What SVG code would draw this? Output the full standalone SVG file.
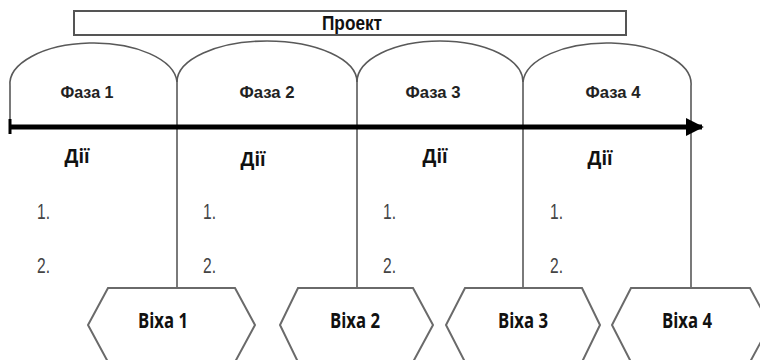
<svg xmlns="http://www.w3.org/2000/svg" width="760" height="360" viewBox="0 0 760 360">
<defs>
<style>
.ln{fill:none;stroke:#595959;stroke-width:1.6}
.hex{fill:#fff;stroke:#6a6a6a;stroke-width:2}
.ph{font-family:"Liberation Sans",Arial,sans-serif;font-weight:bold;font-size:17px;fill:#222;text-anchor:middle}
.act{font-family:"Open Sans","Liberation Sans",sans-serif;font-weight:700;font-size:20px;fill:#111;text-anchor:middle}
.num{font-family:"Liberation Sans",Arial,sans-serif;font-size:22px;fill:#444}
.ms{font-family:"Open Sans","Liberation Sans",sans-serif;font-weight:700;font-size:21px;fill:#111;text-anchor:middle}
</style>
<marker id="ah" viewBox="0 0 10 10" refX="9" refY="5" markerWidth="3.6" markerHeight="3.6" orient="auto" markerUnits="strokeWidth">
<path d="M0,0 L10,5 L0,10 z" fill="#000"/>
</marker>
</defs>
<g id="project">
<rect x="74" y="11" width="552" height="24" fill="#fff" stroke="#555" stroke-width="2"/>
<text x="352" y="30" font-family="'Liberation Sans',Arial,sans-serif" font-weight="bold" font-size="21" fill="#111" text-anchor="middle" textLength="60" lengthAdjust="spacingAndGlyphs">Проект</text>
</g>
<g id="connectors">
<path class="ln" d="M10,127 L10,86 A83.5,41 0 0 1 177,82"/>
<path class="ln" d="M177,82 A90,41 0 0 1 357,82"/>
<path class="ln" d="M357,82 A83,41 0 0 1 523,82"/>
<path class="ln" d="M523,82 A84,41 0 0 1 691,86 L691,288"/>
<line class="ln" x1="177" y1="82" x2="177" y2="288"/>
<line class="ln" x1="357" y1="82" x2="357" y2="288"/>
<line class="ln" x1="523" y1="82" x2="523" y2="288"/>
<line x1="10" y1="127" x2="702" y2="127" stroke="#000" stroke-width="5" marker-end="url(#ah)"/>
<line x1="10" y1="119" x2="10" y2="134" stroke="#000" stroke-width="3"/>
</g>
<g id="phase1">
<text class="ph" x="87" y="98" textLength="53" lengthAdjust="spacingAndGlyphs">Фаза 1</text>
<text class="act" x="77" y="163" textLength="25" lengthAdjust="spacingAndGlyphs">Дії</text>
<text class="num" x="37" y="219" textLength="13" lengthAdjust="spacingAndGlyphs">1.</text>
<text class="num" x="37" y="273" textLength="13" lengthAdjust="spacingAndGlyphs">2.</text>
</g>
<g id="phase2">
<text class="ph" x="267" y="98" textLength="55" lengthAdjust="spacingAndGlyphs">Фаза 2</text>
<text class="act" x="253" y="166" textLength="25" lengthAdjust="spacingAndGlyphs">Дії</text>
<text class="num" x="203" y="219" textLength="13" lengthAdjust="spacingAndGlyphs">1.</text>
<text class="num" x="203" y="273" textLength="13" lengthAdjust="spacingAndGlyphs">2.</text>
</g>
<g id="phase3">
<text class="ph" x="433" y="98" textLength="55" lengthAdjust="spacingAndGlyphs">Фаза 3</text>
<text class="act" x="435" y="163" textLength="25" lengthAdjust="spacingAndGlyphs">Дії</text>
<text class="num" x="383" y="219" textLength="13" lengthAdjust="spacingAndGlyphs">1.</text>
<text class="num" x="383" y="273" textLength="13" lengthAdjust="spacingAndGlyphs">2.</text>
</g>
<g id="phase4">
<text class="ph" x="613" y="98" textLength="55" lengthAdjust="spacingAndGlyphs">Фаза 4</text>
<text class="act" x="600" y="165" textLength="25" lengthAdjust="spacingAndGlyphs">Дії</text>
<text class="num" x="550" y="219" textLength="13" lengthAdjust="spacingAndGlyphs">1.</text>
<text class="num" x="550" y="273" textLength="13" lengthAdjust="spacingAndGlyphs">2.</text>
</g>
<g id="milestone1">
<polygon class="hex" points="108,288 235,288 255,325 235,362 108,362 88,325"/>
<text class="ms" x="163" y="328" textLength="50" lengthAdjust="spacingAndGlyphs">Віха 1</text>
</g>
<g id="milestone2">
<polygon class="hex" points="298,288 413,288 433,325 413,362 298,362 280,325"/>
<text class="ms" x="355" y="328" textLength="50" lengthAdjust="spacingAndGlyphs">Віха 2</text>
</g>
<g id="milestone3">
<polygon class="hex" points="465,288 582,288 600,325 582,362 465,362 446,325"/>
<text class="ms" x="523" y="328" textLength="50" lengthAdjust="spacingAndGlyphs">Віха 3</text>
</g>
<g id="milestone4">
<polygon class="hex" points="631,288 750,288 770,325 750,362 631,362 612,325"/>
<text class="ms" x="687" y="328" textLength="50" lengthAdjust="spacingAndGlyphs">Віха 4</text>
</g>
</svg>
